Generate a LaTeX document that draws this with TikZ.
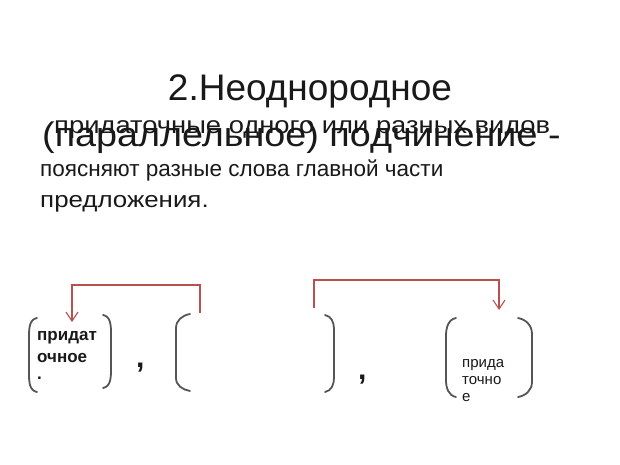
\documentclass[tikz,border=0pt]{standalone}
\usepackage{fontspec}
\setmainfont{Liberation Sans}
\usetikzlibrary{arrows.meta}
\definecolor{linkred}{RGB}{185,80,80}
\definecolor{brgray}{RGB}{85,85,85}
\definecolor{ink}{RGB}{25,25,25}
\tikzset{
  txt/.style={inner sep=0pt, anchor=base west, text=ink},
  brace/.style={draw=brgray, line width=1.8pt, line cap=round},
  link/.style={draw=linkred, line width=1.3pt},
  linkarrow/.style={link, -{Straight Barb[length=9pt,width=12pt,line width=1.1pt]}},
}
\begin{document}
\begin{tikzpicture}[x=1pt,y=-1pt]
\path[fill=white] (0,0) rectangle (620,464);
\useasboundingbox (0,0) rectangle (620,464);
% title
\node[txt, anchor=base] (title) at (310,100) {\fontsize{37}{42}\selectfont 2.Неоднородное};
\node[txt, xscale=1.11] (big) at (42,146) {\fontsize{34}{38}\selectfont (параллельное) подчинение -};
\node[txt, xscale=1.14] (small) at (54,133) {\fontsize{24}{28}\selectfont придаточные одного или разных видов};
\node[txt] (l2) at (40,176) {\fontsize{22.5}{26}\selectfont поясняют разные слова главной части};
\node[txt, xscale=1.15] (l3) at (40,207) {\fontsize{22.5}{26}\selectfont предложения.};
% left group
\draw[brace] (37,318) to[out=190,in=90] (29,336) -- (29,374) to[out=-90,in=170] (37,392);
\draw[brace] (103,315) to[out=-10,in=90] (111,333) -- (111,370) to[out=-90,in=10] (103,388);
\node[txt] (t1) at (37,340) {\fontsize{17}{20}\selectfont\bfseries придат};
\node[txt] (t2) at (37,362) {\fontsize{17}{20}\selectfont\bfseries очное};
\node[txt] (t3) at (37,379) {\fontsize{17}{20}\selectfont\bfseries .};
\node[txt] (c1) at (136,367) {\fontsize{30}{34}\selectfont\bfseries ,};
\draw[brace] (190,314) to[out=190,in=90] (176,328) -- (176,378) to[out=-90,in=170] (190,391);
% second group
\draw[brace] (325,315) to[out=-10,in=90] (334,329) -- (334,378) to[out=-90,in=10] (325,392);
\node[txt] (c2) at (358,379) {\fontsize{30}{34}\selectfont\bfseries ,};
\draw[brace] (456,318) to[out=190,in=90] (446,336) -- (446,380) to[out=-90,in=170] (456,397);
\draw[brace] (518,318) to[out=-10,in=90] (532,334) -- (532,382) to[out=-90,in=10] (518,397);
\node[txt] (r1) at (462,367) {\fontsize{15}{18}\selectfont прида};
\node[txt] (r2) at (462,384) {\fontsize{15}{18}\selectfont точно};
\node[txt] (r3) at (462,401) {\fontsize{15}{18}\selectfont е};
% connectors
\coordinate (a1) at (200,313);
\coordinate (a2) at (72,322);
\coordinate (b1) at (314,308);
\coordinate (b2) at (499,310);
\draw[linkarrow] (a1) -- (200,285) -- (72,285) -- (a2);
\draw[linkarrow] (b1) -- (314,280) -- (499,280) -- (b2);
\end{tikzpicture}
\end{document}
